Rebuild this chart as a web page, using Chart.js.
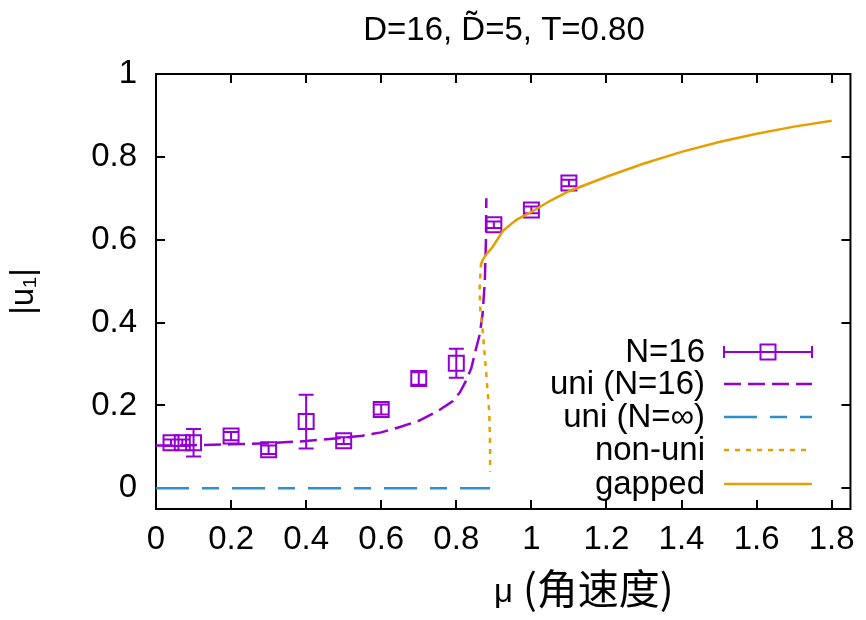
<!DOCTYPE html>
<html><head><meta charset="utf-8">
<script src="https://cdn.jsdelivr.net/npm/chart.js@4.4.1/dist/chart.umd.min.js"></script>
<style>html,body{margin:0;padding:0;background:#fff}canvas{display:block}</style>
</head><body>
<canvas id="c" width="866" height="620"></canvas>
<script>
// ---- text ----
const titleText = 'D=16, D\u0303=5, T=0.80';
const xTitleSym = 'μ';
const xTitleCjk = '(角速度)';
const yTitle = '|u₁|';
const legendLabels = ['N=16', 'uni (N=16)', 'uni (N=∞)', 'non-uni', 'gapped'];

// ---- ticks ----
const xTicks = [0, 0.2, 0.4, 0.6, 0.8, 1, 1.2, 1.4, 1.6, 1.8];
const yTicks = [0, 0.2, 0.4, 0.6, 0.8, 1];

// ---- N=16 data with error bars ----
const n16Mu  = [0.04, 0.07, 0.1, 0.2, 0.3, 0.4, 0.5, 0.6, 0.7, 0.8, 0.9, 1.0, 1.1];
const n16U   = [0.110, 0.110, 0.110, 0.126, 0.093, 0.161, 0.115, 0.190, 0.265, 0.302, 0.636, 0.672, 0.737];
const n16Err = [0.008, 0.008, 0.033, 0.010, 0.010, 0.065, 0.008, 0.012, 0.015, 0.035, 0.008, 0.008, 0.008];

// ---- uni (N=16) ----
const uniN16Mu = [0, 0.1, 0.2, 0.3, 0.4, 0.5, 0.55, 0.6, 0.65, 0.7, 0.75, 0.79, 0.81, 0.825, 0.84, 0.852, 0.862, 0.87, 0.876, 0.879, 0.88];
const uniN16U  = [0.103, 0.104, 0.106, 0.109, 0.114, 0.122, 0.127, 0.135, 0.148, 0.163, 0.186, 0.21, 0.232, 0.258, 0.29, 0.335, 0.37, 0.42, 0.5, 0.6, 0.70];

// ---- uni (N=inf) ----
const uniInfMu = [0, 0.89];
const uniInfU  = [0, 0];

// ---- non-uni ----
const nonUniMu = [0.866, 0.862, 0.864, 0.87, 0.879, 0.888, 0.89, 0.89];
const nonUniU  = [0.545, 0.48, 0.43, 0.382, 0.286, 0.18, 0.1, 0.04];

// ---- gapped ----
const gappedMu = [0.866, 0.87, 0.882, 0.897, 0.925, 0.96, 1.0, 1.05, 1.1, 1.2, 1.3, 1.4, 1.5, 1.6, 1.7, 1.8];
const gappedU  = [0.54, 0.551, 0.567, 0.583, 0.622, 0.648, 0.667, 0.694, 0.717, 0.752, 0.784, 0.812, 0.836, 0.856, 0.873, 0.887];

const PURPLE = '#9400d3', BLUE = '#2b8fd0', ORANGE = '#e69f00';
const FONT = "'Liberation Sans', Arial, Helvetica, sans-serif";
const CJK = "'Noto Sans CJK SC', 'Noto Sans CJK JP', sans-serif";
const zip = (xs, ys) => xs.map((x, i) => ({x, y: ys[i]}));

const styles = [
  {kind: 'points', color: PURPLE},
  {kind: 'line', color: PURPLE, dash: [17, 7], width: 2.5},
  {kind: 'line', color: BLUE, dash: [33, 13, 17, 13], width: 2.5},
  {kind: 'line', color: ORANGE, dash: [5, 6], width: 2.5},
  {kind: 'line', color: ORANGE, dash: [], width: 2.5},
];

const deco = {
  id: 'deco',
  beforeDatasetsDraw(chart) {
    const {ctx, chartArea: a, scales: {x, y}} = chart;
    ctx.save();
    // border
    ctx.strokeStyle = '#000'; ctx.lineWidth = 2; ctx.setLineDash([]);
    ctx.strokeRect(a.left, a.top, a.right - a.left, a.bottom - a.top);
    // inward ticks
    ctx.beginPath();
    const TL = 9;
    xTicks.forEach(v => {
      const px = Math.round(x.getPixelForValue(v));
      ctx.moveTo(px, a.bottom); ctx.lineTo(px, a.bottom - TL);
      ctx.moveTo(px, a.top); ctx.lineTo(px, a.top + TL);
    });
    yTicks.forEach(v => {
      const py = Math.round(y.getPixelForValue(v));
      ctx.moveTo(a.left, py); ctx.lineTo(a.left + TL, py);
      ctx.moveTo(a.right, py); ctx.lineTo(a.right - TL, py);
    });
    ctx.stroke();
    // error bars
    ctx.strokeStyle = PURPLE; ctx.lineWidth = 2;
    ctx.beginPath();
    n16Mu.forEach((m, i) => {
      const px = x.getPixelForValue(m);
      const y1 = y.getPixelForValue(n16U[i] - n16Err[i]);
      const y2 = y.getPixelForValue(n16U[i] + n16Err[i]);
      ctx.moveTo(px, y1); ctx.lineTo(px, y2);
      ctx.moveTo(px - 7.5, y1); ctx.lineTo(px + 7.5, y1);
      ctx.moveTo(px - 7.5, y2); ctx.lineTo(px + 7.5, y2);
    });
    ctx.stroke();
    ctx.restore();
  },
  afterDraw(chart) {
    const {ctx, chartArea: a} = chart;
    ctx.save();
    ctx.fillStyle = '#000';
    // title
    ctx.font = `33px ${FONT}`;
    ctx.textAlign = 'center'; ctx.textBaseline = 'alphabetic';
    ctx.fillText(titleText, 504, 40);
    // x title
    ctx.textAlign = 'left';
    ctx.font = `33px ${FONT}`;
    ctx.fillText(xTitleSym, 494, 602);
    ctx.font = `41px ${CJK}`;
    ctx.fillText(xTitleCjk, 523, 604);
    // legend
    const rowsY = [352, 384, 417, 450, 484];
    const tx = 705, sx1 = 724, sx2 = 812;
    ctx.font = `33px ${FONT}`;
    ctx.textAlign = 'right'; ctx.textBaseline = 'middle';
    legendLabels.forEach((lab, i) => {
      const yy = rowsY[i];
      ctx.fillStyle = '#000';
      ctx.fillText(lab, tx, yy + 1);
      const s = styles[i];
      ctx.strokeStyle = s.color;
      if (s.kind === 'points') {
        ctx.lineWidth = 2; ctx.setLineDash([]);
        ctx.beginPath();
        ctx.moveTo(sx1, yy); ctx.lineTo(sx2, yy);
        ctx.moveTo(sx1, yy - 6); ctx.lineTo(sx1, yy + 6);
        ctx.moveTo(sx2, yy - 6); ctx.lineTo(sx2, yy + 6);
        ctx.stroke();
        ctx.fillStyle = '#fff';
        const cx = (sx1 + sx2) / 2;
        ctx.strokeRect(cx - 7.5, yy - 7.5, 15, 15);
      } else {
        ctx.lineWidth = s.width; ctx.setLineDash(s.dash); ctx.lineDashOffset = 0;
        ctx.beginPath(); ctx.moveTo(sx1, yy); ctx.lineTo(sx2, yy); ctx.stroke();
      }
    });
    ctx.restore();
  }
};

const lineDs = (data, s, order) => ({
  data, showLine: true, pointRadius: 0, borderColor: s.color, borderWidth: s.width,
  borderDash: s.dash, tension: 0, fill: false, order
});

new Chart(document.getElementById('c'), {
  type: 'scatter',
  data: {
    datasets: [
      lineDs(zip(gappedMu, gappedU), styles[4], 0),
      lineDs(zip(nonUniMu, nonUniU), styles[3], 1),
      lineDs(zip(uniInfMu, uniInfU), styles[2], 2),
      lineDs(zip(uniN16Mu, uniN16U), styles[1], 3),
      {
        data: zip(n16Mu, n16U), showLine: false, pointStyle: 'rect', pointRadius: 10.6,
        pointBorderWidth: 2, pointBorderColor: PURPLE, pointBackgroundColor: 'rgba(0,0,0,0)', order: 4
      }
    ]
  },
  options: {
    responsive: false, animation: false, devicePixelRatio: 1,
    layout: {padding: {top: 74, right: 14, left: 0, bottom: 0}},
    plugins: {legend: {display: false}, tooltip: {enabled: false}, title: {display: false}},
    scales: {
      x: {
        type: 'linear', min: 0, max: 1.85,
        afterFit: s => { s.height = 111; },
        afterBuildTicks: s => { s.ticks = xTicks.map(v => ({value: v})); },
        grid: {display: false, drawTicks: false}, border: {display: false},
        ticks: {padding: 11, color: '#000', font: {size: 33, family: FONT}, maxRotation: 0,
                callback: v => String(+v.toFixed(1))}
      },
      y: {
        type: 'linear', min: -0.05, max: 1,
        afterFit: s => { s.width = 156; },
        afterBuildTicks: s => { s.ticks = yTicks.map(v => ({value: v})); },
        grid: {display: false, drawTicks: false}, border: {display: false},
        title: {display: true, text: yTitle, color: '#000', font: {size: 33, family: FONT}, padding: {top: 4, bottom: 0}},
        ticks: {padding: 19, color: '#000', font: {size: 33, family: FONT},
                callback: v => String(+v.toFixed(1))}
      }
    }
  },
  plugins: [deco]
});
</script>
</body></html>
